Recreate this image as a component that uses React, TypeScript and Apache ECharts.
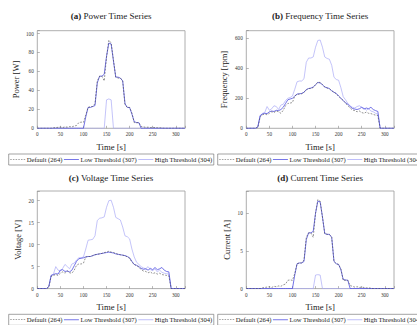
import React, { useEffect, useRef } from 'react';
import * as echarts from 'echarts';

const times = [0,5,10,15,20,25,30,35,40,45,50,55,60,65,70,75,80,85,90,95,100,105,110,115,120,125,130,135,140,145,150,155,160,165,170,175,180,185,190,195,200,205,210,215,220,225,230,235,240,245,250,255,260,265,270,275,280,285,290,295,300,305,310,315,320];

const seriesNames = ['Default (264)', 'Low Threshold (307)', 'High Threshold (304)'];
const xTicks = [0, 50, 100, 150, 200, 250, 300];

const powerDefault = [0,0,0,0,0,0,0, 0.5,0.8,1.0,1.3,0.8,1.5,1.2,1.8,1.5,2.4,3.0, 6.0,6.5,6.2, 14,22,23,23,26,50,55,55,50, 75,93,90,72,54,53,53,50,25, 22,22,16,6,6,6,2,1.5,1,1.2,0.8, 1,0.8,0.5,0.5,0.3,0,0,0,0,0,0,0,0,0,0];
const powerLow = [0,0,0,0,0,0,0,0,0,0,0,0,0,0,0,0,0,0,0,0,0, 12,22,22,23,24,48,55,55,57, 76,90,89,71,54,54,53,50,26, 22,22,15,7,6,6,0,0,0,0,0, 0,0,0,0,0,0,0,0,0,0,0,0,0,0,0];
const powerHigh = [0,0,0,0,0,0,0,0,0,0,0,0,0,0,0,0,0,0,0,0,0,0,0,0,0,0,0,0,0,0, 30,31,30, 0,0,0,0,0,0,0,0,0,0,0,0,0,0,0,0,0,0,0,0,0,0,0,0,0,0,0,0,0,0,0,0,0];

const freqDefault = [0,0,0,0,0, 5, 75,90,95,90,100,110,105,115,110,100,120,150,165,168,172, 215,225,228,230,240,255,265,265,272,290, 308,305,292,275,268,262,250,240,230,212, 198,185,168,150,135,122,118,110,115,105, 100,108,100,98,92,88,85, 0,0,0,0,0,0,0];
const freqLow = [0,0,0,0,0, 10, 85,95,100,98,110,115,112,120,118,125,140,165,190,195,200, 215,228,230,232,240,258,265,268,275,290, 305,302,290,275,270,265,250,240,232,215, 200,185,170,160,145,132,128,125,130,140, 128,135,130,140,125,118,112, 0,0,0,0,0,0,0];
const freqHigh = [0,0,0,0,0, 10, 80,100,105,145,120,130,150,145,125,155,160,185,200,205,215, 260,310,315,315,330,440,468,468,475,540, 585,588,540,475,465,460,420,340,325,320, 270,210,190,165,150,140,135,145,150,140, 135,120,130,115,110,100,95, 0,0,0,0,0,0,0];

const voltDefault = [0,0,0,0,0, 0.3, 2.8,3.0,3.2,3.0,3.5,3.8,3.5,4.0,3.6,3.5,4.2,5.3,5.6,5.6,5.8, 7.2,7.3,7.3,7.5,7.7,7.8,7.9,8.0,8.2,8.3, 8.5,8.3,8.2,8.0,7.8,7.7,7.6,7.5,7.2,6.9, 6.0,5.5,5.2,4.9,4.3,4.0,3.9,3.6,3.8,3.4, 3.6,3.3,3.5,3.2,3.1,3.0,2.9, 0,0,0,0,0,0,0];
const voltLow = [0,0,0,0,0, 0.5, 3.0,3.2,3.4,3.3,4.2,4.3,3.9,4.0,3.8,4.2,5.2,6.2,6.8,6.9,7.0, 7.2,7.3,7.3,7.5,7.7,7.8,7.9,8.0,8.1,8.2, 8.3,8.2,8.1,7.9,7.8,7.7,7.6,7.5,7.3,7.0, 6.2,5.5,5.3,5.0,4.6,4.4,4.5,4.2,4.6,4.3, 4.8,4.3,4.5,4.8,4.2,3.9,3.8, 0,0,0,0,0,0,0];
const voltHigh = [0,0,0,0,0, 0.5, 3.0,3.3,5.0,4.2,4.0,4.6,5.5,5.0,4.5,5.6,5.8,6.5,7.0,7.0,7.2, 9.0,11.0,11.1,11.2,12.0,15.5,16.0,16.1,16.3,18.5, 20.0,20.1,18.5,16.2,15.9,15.6,14.0,12.0,11.8,11.3, 9.0,7.2,6.0,5.5,5.0,4.7,4.5,5.0,4.3,4.1, 4.5,3.8,4.2,3.7,3.5,3.4,3.3, 0,0,0,0,0,0,0];

const currDefault = [0,0,0,0,0,0,0, 0.1,0.15,0.2,0.25,0.15,0.3,0.25,0.35,0.3,0.5,0.6, 1.1,1.15,1.1, 2.0,3.3,3.4,3.4,3.8,6.8,7.4,7.4,6.8, 10.0,11.8,11.6,9.5,7.3,7.2,7.2,6.8,3.6, 3.3,3.2,2.6,1.1,1.1,1.1,0.4,0.3,0.2,0.25,0.15, 0.2,0.15,0.1,0.1,0.05,0,0,0,0,0,0,0,0,0,0];
const currLow = [0,0,0,0,0,0,0,0,0,0,0,0,0,0,0,0,0,0,0,0,0, 1.8,3.3,3.4,3.4,3.6,6.5,7.4,7.4,7.6, 10.0,11.6,11.5,9.5,7.3,7.2,7.2,6.8,3.6, 3.3,3.2,2.5,1.2,1.15,1.1,0,0,0,0,0, 0,0,0,0,0,0,0,0,0,0,0,0,0,0,0];
const currHigh = [0,0,0,0,0,0,0,0,0,0,0,0,0,0,0,0,0,0,0,0,0,0,0,0,0,0,0,0,0,0, 1.8,1.85,1.8, 0,0,0,0,0,0,0,0,0,0,0,0,0,0,0,0,0,0,0,0,0,0,0,0,0,0,0,0,0,0,0,0,0];

const FONT = 'Liberation Serif';

const panels = [
  { tag: '(a)', title: 'Power Time Series', yName: 'Power [W]', ymax: 103, interval: 20, yTicks: [0, 20, 40, 60, 80, 100], data: [powerDefault, powerLow, powerHigh], left: 37.3, top: 30.7, nameGap: 17, titleTop: 11.5 },
  { tag: '(b)', title: 'Frequency Time Series', yName: 'Frequency [rpm]', ymax: 650, interval: 200, yTicks: [0, 200, 400, 600], data: [freqDefault, freqLow, freqHigh], left: 246.3, top: 30.7, nameGap: 17.5, titleTop: 11.5 },
  { tag: '(c)', title: 'Voltage Time Series', yName: 'Voltage [V]', ymax: 22.2, interval: 5, yTicks: [0, 5, 10, 15, 20], data: [voltDefault, voltLow, voltHigh], left: 37.3, top: 191, nameGap: 14.5, titleTop: 173.8 },
  { tag: '(d)', title: 'Current Time Series', yName: 'Current [A]', ymax: 12.95, interval: 5, yTicks: [0, 5, 10], data: [currDefault, currLow, currHigh], left: 246.3, top: 191, nameGap: 14.5, titleTop: 173.8 },
];

const GRID_W = 147.7;
const GRID_H = 97.6;

const lineStyles = [
  { color: '#4a4a4a', width: 0.6, type: [1.8, 1.4] as number[] },
  { color: '#4f4fe0', width: 0.8, type: 'solid' },
  { color: '#ababf7', width: 0.7, type: 'solid' },
];
const legendIcons = [
  'path://M0,0h1.6v0.6h-1.6z M2.8,0h1.6v0.6h-1.6z M5.6,0h1.6v0.6h-1.6z M8.4,0h1.6v0.6h-1.6z M11.2,0h1.6v0.6h-1.6z M14,0h1.6v0.6h-1.6z',
  'path://M0,0H15.6V0.8H0Z',
  'path://M0,0H15.6V0.8H0Z',
];
const drawOrder = [2, 1, 0];

export default function App() {
  const ref = useRef<HTMLDivElement>(null);
  useEffect(() => {
    if (!ref.current) return;
    const chart = echarts.init(ref.current, null, { renderer: 'svg' });
    const grid: any[] = [];
    const xAxis: any[] = [];
    const yAxis: any[] = [];
    const series: any[] = [];
    const title: any[] = [];
    const legend: any[] = [];
    panels.forEach((p, k) => {
      grid.push({ left: p.left, top: p.top, width: GRID_W, height: GRID_H, show: true, borderColor: '#999', borderWidth: 0.8, backgroundColor: 'transparent' });
      xAxis.push({
        type: 'value', gridIndex: k, min: 0, max: 320, interval: 50,
        name: 'Time [s]', nameLocation: 'middle', nameGap: 14,
        nameTextStyle: { fontFamily: FONT, fontSize: 8.7, color: '#222' },
        axisLine: { show: false },
        axisTick: { show: true, inside: true, length: 2.5, lineStyle: { color: '#888', width: 0.6 } },
        splitLine: { show: false },
        axisLabel: { fontFamily: FONT, fontSize: 5.2, color: '#333', margin: 3.5, formatter: (v: number) => (xTicks.includes(v) ? String(v) : '') },
      });
      yAxis.push({
        type: 'value', gridIndex: k, min: 0, max: p.ymax, interval: p.interval,
        name: p.yName, nameLocation: 'middle', nameGap: p.nameGap, nameRotate: 90,
        nameTextStyle: { fontFamily: FONT, fontSize: 8.5, color: '#222' },
        axisLine: { show: false },
        axisTick: { show: true, inside: true, length: 2.5, lineStyle: { color: '#888', width: 0.6 } },
        splitLine: { show: false },
        axisLabel: { fontFamily: FONT, fontSize: 5.2, color: '#333', margin: 3.5, formatter: (v: number) => (p.yTicks.includes(v) ? String(v) : '') },
      });
      drawOrder.forEach((s) => {
        series.push({
          type: 'line', name: seriesNames[s], xAxisIndex: k, yAxisIndex: k,
          symbol: 'none', showSymbol: false, clip: true,
          lineStyle: lineStyles[s], itemStyle: { color: lineStyles[s].color },
          data: times.map((t, i) => [t, p.data[s][i]]),
        });
      });
      title.push({
        text: '{b|' + p.tag + '} ' + p.title,
        left: p.left + GRID_W / 2, top: p.titleTop, textAlign: 'center', padding: 0,
        textStyle: { fontFamily: FONT, fontSize: 9, fontWeight: 'normal', color: '#222', rich: { b: { fontFamily: FONT, fontSize: 9, fontWeight: 'bold', color: '#222' } } },
      });
      legend.push({
        left: p.left - 28.6, top: p.top + GRID_H + 25.7, width: 215, orient: 'horizontal',
        padding: [2, 1.5, 2, 1.5], itemGap: 1.5, itemWidth: 15, itemHeight: 6,
        borderColor: '#666', borderWidth: 0.6, borderRadius: 0,
        textStyle: { fontFamily: FONT, fontSize: 6.6, color: '#222', padding: [0, 0, 0, -3.5] },
        data: seriesNames.map((n, s) => ({ name: n, icon: legendIcons[s] })), selectedMode: false,
      });
    });
    chart.setOption({ animation: false, backgroundColor: '#fff', title, legend, grid, xAxis, yAxis, series });
    return () => chart.dispose();
  }, []);
  return <div ref={ref} style={{ position: 'absolute', left: 0, top: 0, width: 417, height: 325 }} />;
}
